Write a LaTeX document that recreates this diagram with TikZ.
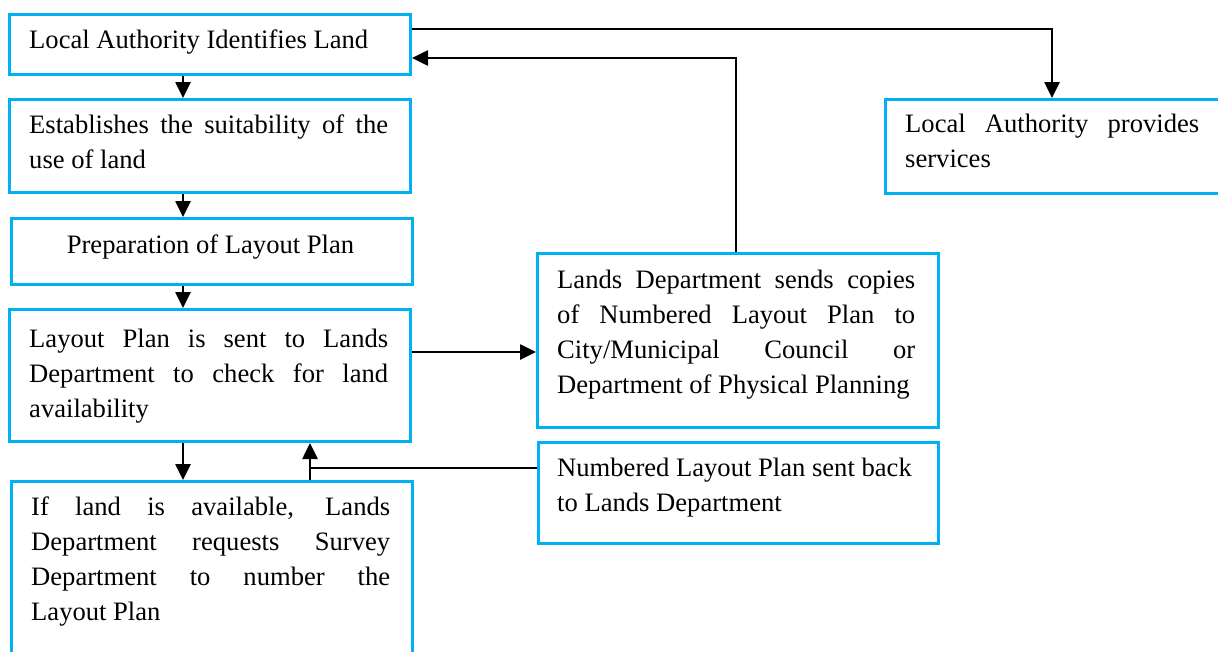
\documentclass[tikz,border=0pt]{standalone}
\usepackage{fontspec}
\setmainfont{Liberation Serif}
\usetikzlibrary{arrows.meta}
\definecolor{lblue}{RGB}{0,176,240}
\newcommand\fsz{\fontsize{26.6pt}{35.2pt}\selectfont}
\tolerance=10000
\hyphenpenalty=10000
\begin{document}
\begin{tikzpicture}[x=1pt,y=-1pt,
  box/.style={draw=lblue, line width=3pt, inner sep=0pt, anchor=north west},
  txt/.style={inner sep=0pt, text width=359pt, align=justify, font=\fsz, anchor=base west},
  conn/.style={draw=black, line width=2.6pt},
  arr/.style={conn, -{Triangle[length=16pt,width=15pt]}}]
\useasboundingbox (0,0) rectangle (1218,651);
\clip (0,0) rectangle (1218,651);

% boxes
\node[box, minimum width=401pt, minimum height=60pt]  (b1) at (8,13) {};
\node[box, minimum width=401pt, minimum height=93pt]  (b2) at (8,98) {};
\node[box, minimum width=401pt, minimum height=66pt]  (b3) at (10,217) {};
\node[box, minimum width=401pt, minimum height=132pt] (b4) at (8,308) {};
\node[box, minimum width=401pt, minimum height=200pt] (b5) at (10,480) {};
\node[box, minimum width=401pt, minimum height=174pt] (b6) at (536,252) {};
\node[box, minimum width=400pt, minimum height=101pt] (b7) at (537,441) {};
\node[box, minimum width=400pt, minimum height=94pt]  (bR) at (884,98) {};

% texts
\node[txt] (t1) at (29,48) {Local Authority Identifies Land};
\node[txt] (t2) at (29,133) {Establishes the suitability of the\linebreak use of land};
\node[inner sep=0pt, font=\fsz, anchor=base] (t3) at (210.5,253) {Preparation of Layout Plan};
\node[txt] (t4) at (29,347) {Layout Plan is sent to Lands\linebreak Department to check for land\linebreak availability};
\node[txt] (t5) at (31,515) {If land is available, Lands\linebreak Department requests Survey\linebreak Department to number the\linebreak Layout Plan};
\node[txt, text width=358pt] (t6) at (557,288) {Lands Department sends copies\linebreak of Numbered Layout Plan to\linebreak City/Municipal Council or\linebreak Department of Physical Planning};
\node[txt, text width=358pt] (t7) at (557,476) {Numbered Layout Plan sent back\\ to Lands Department};
\node[txt, text width=294pt] (t8) at (905,132) {Local Authority provides\linebreak services};

% helper coordinates
\coordinate (ax) at (183,0);
\coordinate (xR) at (1052,0);
\coordinate (xM) at (736,0);
\coordinate (xF) at (310,0);
\coordinate (yA) at (0,29);
\coordinate (yB) at (0,58);
\coordinate (yC) at (0,352);
\coordinate (yD) at (0,468);

% connectors
\draw[arr] (ax |- b1.south) -- (ax |- b2.north);
\draw[arr] (ax |- b2.south) -- (ax |- b3.north);
\draw[arr] (ax |- b3.south) -- (ax |- b4.north);
\draw[arr] (ax |- b4.south) -- (ax |- b5.north);
\draw[arr] (b1.east |- yA) -| (xR |- bR.north);
\draw[arr] (xM |- b6.north) |- (b1.east |- yB);
\draw[arr] (b4.east |- yC) -- (b6.west |- yC);
\draw[conn] (b7.west |- yD) -- (xF |- yD);
\draw[arr] (xF |- b5.north) -- (xF |- b4.south);
\end{tikzpicture}
\end{document}
